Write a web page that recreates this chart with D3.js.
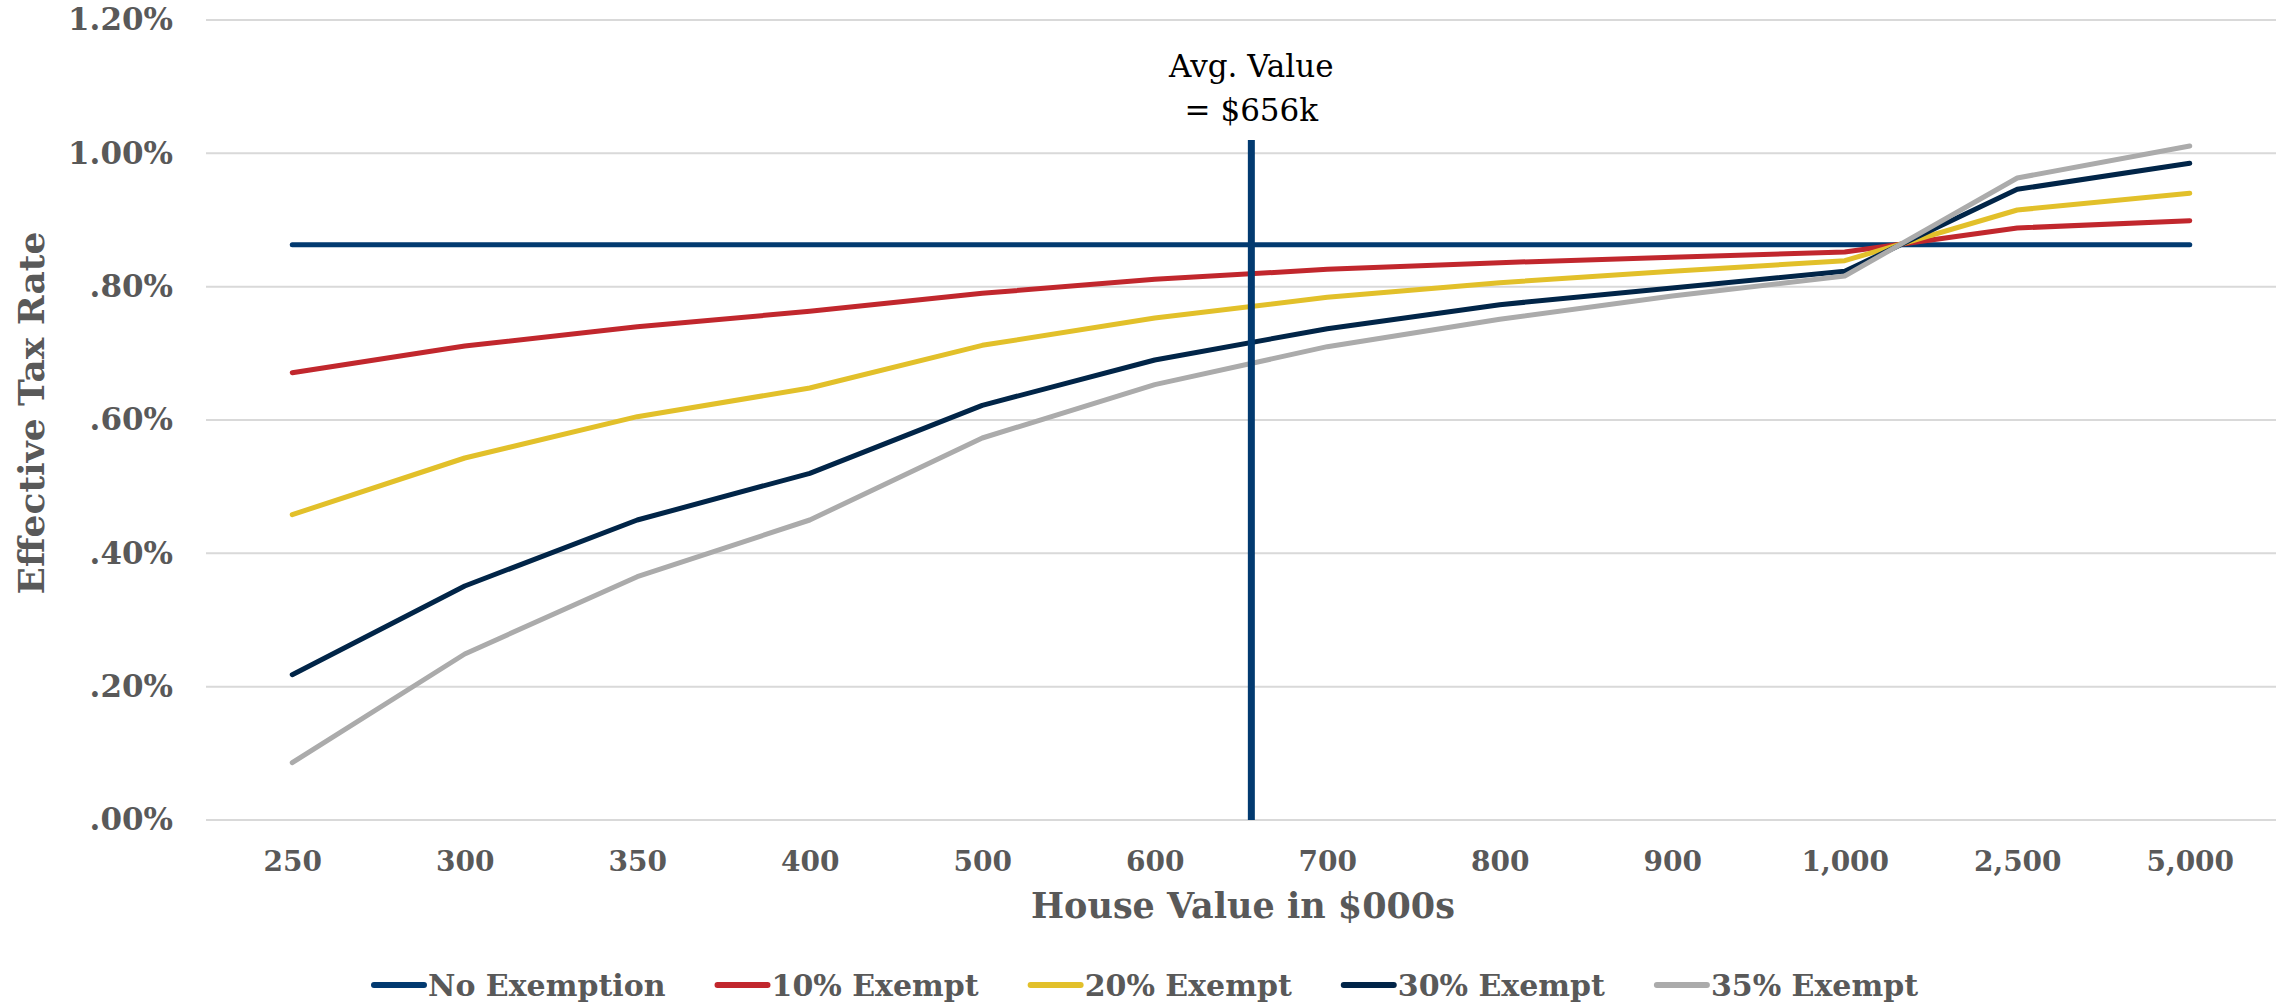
<!DOCTYPE html>
<html>
<head>
<meta charset="utf-8">
<script src="https://cdn.jsdelivr.net/npm/d3@7"></script>
<style>
  html, body { margin: 0; padding: 0; background: #fff; }
  svg { display: block; }
  text { font-family: "DejaVu Serif", "Liberation Serif", serif; }
</style>
</head>
<body>
<svg id="chart" width="2282" height="1007"></svg>
<script>
// House value categories (in $000s) and their axis labels
const categories = ["250", "300", "350", "400", "500", "600", "700", "800", "900", "1,000", "2,500", "5,000"];

// Effective tax rate (%) for each exemption scenario
const noExemption   = [0.863, 0.863, 0.863, 0.863, 0.863, 0.863, 0.863, 0.863, 0.863, 0.863, 0.863, 0.863];
const exempt10      = [0.671, 0.711, 0.740, 0.763, 0.790, 0.811, 0.826, 0.836, 0.844, 0.852, 0.888, 0.899];
const exempt20      = [0.458, 0.543, 0.605, 0.648, 0.712, 0.753, 0.784, 0.806, 0.823, 0.839, 0.915, 0.940];
const exempt30      = [0.218, 0.351, 0.450, 0.520, 0.622, 0.690, 0.737, 0.773, 0.798, 0.823, 0.946, 0.985];
const exempt35      = [0.086, 0.249, 0.365, 0.450, 0.573, 0.653, 0.710, 0.751, 0.786, 0.816, 0.963, 1.011];

const seriesNames = ["No Exemption", "10% Exempt", "20% Exempt", "30% Exempt", "35% Exempt"];
const seriesColors = ["#023a70", "#c1272d", "#e2c02a", "#012548", "#ababab"];

// Y axis ticks and labels
const yTicks = [0, 0.2, 0.4, 0.6, 0.8, 1.0, 1.2];
const yTickLabels = [".00%", ".20%", ".40%", ".60%", ".80%", "1.00%", "1.20%"];

// Average house value marker (in $000s) and the height its line reaches
const avgValue = 656;
const avgLineTop = 1.02;
const avgLabel = ["Avg. Value", "= $656k"];

const svg = d3.select("#chart");
const plot = { left: 206, right: 2276, top: 20, bottom: 820 };

const x = d3.scalePoint().domain(categories).range([plot.left, plot.right]).padding(0.5);
const y = d3.scaleLinear().domain([0, 1.2]).range([plot.bottom, plot.top]);

// Gridlines
svg.append("g").selectAll("line").data(yTicks).join("line")
  .attr("x1", plot.left).attr("x2", plot.right)
  .attr("y1", d => y(d)).attr("y2", d => y(d))
  .attr("stroke", "#d9d9d9").attr("stroke-width", 2);

// Y axis labels
const yAxis = d3.axisLeft(y).tickValues(yTicks)
  .tickFormat((d, i) => yTickLabels[i]).tickSize(0).tickPadding(0);
svg.append("g").attr("transform", "translate(173,0)").call(yAxis)
  .call(g => g.select(".domain").remove())
  .selectAll("text")
  .attr("font-family", "DejaVu Serif").attr("font-weight", "bold")
  .attr("font-size", 31).attr("fill", "#595959");

// X axis labels
const xAxis = d3.axisBottom(x).tickSize(0).tickPadding(0);
svg.append("g").attr("transform", "translate(0,851)").call(xAxis)
  .call(g => g.select(".domain").remove())
  .selectAll("text")
  .attr("font-family", "DejaVu Serif").attr("font-weight", "bold")
  .attr("font-size", 28).attr("fill", "#595959");

// Axis titles
svg.append("text")
  .attr("transform", "translate(44,413) rotate(-90)")
  .attr("text-anchor", "middle")
  .attr("font-weight", "bold").attr("font-size", 36).attr("fill", "#595959")
  .text("Effective Tax Rate");

svg.append("text")
  .attr("x", 1243).attr("y", 918)
  .attr("text-anchor", "middle")
  .attr("font-weight", "bold").attr("font-size", 35).attr("fill", "#595959")
  .text("House Value in $000s");

// Series lines
const seriesData = [noExemption, exempt10, exempt20, exempt30, exempt35];
const line = d3.line().x((d, i) => x(categories[i])).y(d => y(d));
svg.append("g").selectAll("path").data(seriesData).join("path")
  .attr("d", line)
  .attr("fill", "none")
  .attr("stroke", (d, i) => seriesColors[i])
  .attr("stroke-width", 5)
  .attr("stroke-linecap", "round")
  .attr("stroke-linejoin", "round");

// Average value marker, placed between the bracketing categories
const catValues = categories.map(c => +c.replace(/,/g, ""));
let k = 0;
while (k < catValues.length - 2 && catValues[k + 1] < avgValue) k++;
const frac = (avgValue - catValues[k]) / (catValues[k + 1] - catValues[k]);
const avgX = x(categories[k]) + frac * (x(categories[k + 1]) - x(categories[k]));

svg.append("line")
  .attr("x1", avgX).attr("x2", avgX)
  .attr("y1", y(0)).attr("y2", y(avgLineTop))
  .attr("stroke", "#023a70").attr("stroke-width", 7);

svg.append("g").selectAll("text").data(avgLabel).join("text")
  .attr("x", avgX).attr("y", (d, i) => 77 + i * 44)
  .attr("text-anchor", "middle")
  .attr("font-size", 31).attr("fill", "#000")
  .text(d => d);

// Legend, centred under the plot
const legend = svg.append("g");
const items = legend.selectAll("g").data(seriesNames).join("g");
items.append("line")
  .attr("x1", 0).attr("x2", 50).attr("y1", 0).attr("y2", 0)
  .attr("stroke", (d, i) => seriesColors[i])
  .attr("stroke-width", 6).attr("stroke-linecap", "round");
items.append("text")
  .attr("x", 54).attr("y", 11)
  .attr("font-weight", "bold").attr("font-size", 30).attr("fill", "#595959")
  .text(d => d);

let cursor = 0;
const gap = 52;
items.each(function () {
  const g = d3.select(this);
  const w = 54 + g.select("text").node().getComputedTextLength();
  g.attr("data-x", cursor);
  cursor += w + gap;
});
const totalW = cursor - gap;
const startX = 1146 - totalW / 2;
items.attr("transform", function () {
  return `translate(${startX + +this.getAttribute("data-x")},985)`;
});
</script>
</body>
</html>
